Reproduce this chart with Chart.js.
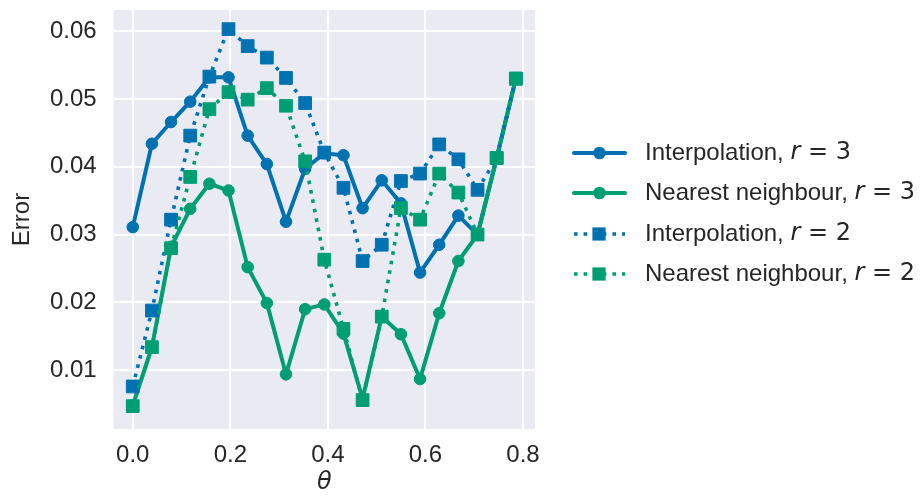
<!DOCTYPE html>
<html>
<head>
<meta charset="utf-8">
<script src="https://cdn.jsdelivr.net/npm/chart.js@4.4.1/dist/chart.umd.min.js"></script>
<style>
  html, body { margin: 0; padding: 0; background: #fff; }
  #wrap { width: 922px; height: 497px; }
</style>
</head>
<body>
<div id="wrap"><canvas id="myChart" width="922" height="497"></canvas></div>
<script>
// angle theta (radians), 21 samples from 0 to pi/4
const theta = [0, 0.0393, 0.0785, 0.1178, 0.1571, 0.1963, 0.2356, 0.2749, 0.3142, 0.3534, 0.3927,
  0.4320, 0.4712, 0.5105, 0.5498, 0.5890, 0.6283, 0.6676, 0.7069, 0.7461, 0.7854];

const interpR3 = [0.0311, 0.0434, 0.0466, 0.0496, 0.0532, 0.0532, 0.0446, 0.0404, 0.0319, 0.0397, 0.0420,
  0.0417, 0.0339, 0.0380, 0.0346, 0.0244, 0.0285, 0.0328, 0.0300, 0.0413, 0.0530];
const nearestR3 = [0.0048, 0.0134, 0.0282, 0.0338, 0.0375, 0.0365, 0.0252, 0.0199, 0.0094, 0.0190, 0.0197,
  0.0154, 0.0058, 0.0179, 0.0153, 0.0087, 0.0184, 0.0261, 0.0300, 0.0413, 0.0530];
const interpR2 = [0.0076, 0.0188, 0.0322, 0.0446, 0.0533, 0.0603, 0.0578, 0.0561, 0.0531, 0.0494, 0.0421,
  0.0369, 0.0261, 0.0285, 0.0379, 0.0390, 0.0433, 0.0411, 0.0366, 0.0413, 0.0530];
const nearestR2 = [0.0047, 0.0134, 0.0280, 0.0385, 0.0485, 0.0510, 0.0499, 0.0516, 0.0490, 0.0408, 0.0263,
  0.0161, 0.0056, 0.0179, 0.0339, 0.0322, 0.0390, 0.0362, 0.0300, 0.0413, 0.0530];

const xTicks = [0, 0.2, 0.4, 0.6, 0.8];
const yTicks = [0.01, 0.02, 0.03, 0.04, 0.05, 0.06];

const BLUE = '#0072B2';
const GREEN = '#009E73';
const TEXT = '#262626';

function pts(vals) {
  return vals.map((v, i) => ({ x: theta[i], y: v }));
}

function series(label, vals, color, dotted, marker, order) {
  return {
    label: label,
    data: pts(vals),
    borderColor: color,
    backgroundColor: color,
    borderWidth: dotted ? 3.6 : 4,
    borderDash: dotted ? [3.6, 6] : [],
    borderCapStyle: dotted ? 'butt' : 'round',
    pointStyle: marker,
    pointRadius: marker === 'rect' ? 9 : 5.8,
    pointBorderWidth: 1,
    pointBorderColor: color,
    pointBackgroundColor: color,
    pointHoverRadius: marker === 'rect' ? 9 : 5.8,
    tension: 0,
    order: order,
    legendDotted: dotted
  };
}

// later series sit on top, as in the original plot
const datasets = [
  series('Interpolation, ', interpR3, BLUE, false, 'circle', 4),
  series('Nearest neighbour, ', nearestR3, GREEN, false, 'circle', 3),
  series('Interpolation, ', interpR2, BLUE, true, 'rect', 2),
  series('Nearest neighbour, ', nearestR2, GREEN, true, 'rect', 1)
];
const rValues = ['3', '3', '2', '2'];

const bgPlugin = {
  id: 'bg',
  beforeDraw(chart) {
    const ctx = chart.ctx;
    const a = chart.chartArea;
    ctx.save();
    ctx.fillStyle = '#ffffff';
    ctx.fillRect(0, 0, chart.width, chart.height);
    ctx.fillStyle = '#EAEAF2';
    ctx.fillRect(a.left, a.top, a.right - a.left, a.bottom - a.top);
    ctx.restore();
  }
};

const sideLegend = {
  id: 'sideLegend',
  afterDraw(chart) {
    const ctx = chart.ctx;
    const rows = [153, 193, 234, 274];
    ctx.save();
    chart.data.datasets.forEach((ds, i) => {
      const y = rows[i];
      ctx.strokeStyle = ds.borderColor;
      ctx.fillStyle = ds.borderColor;
      ctx.lineWidth = ds.borderWidth;
      ctx.setLineDash(ds.legendDotted ? [3.6, 6] : []);
      ctx.lineCap = ds.legendDotted ? 'butt' : 'round';
      ctx.beginPath();
      ctx.moveTo(574, y);
      ctx.lineTo(625, y);
      ctx.stroke();
      ctx.setLineDash([]);
      if (ds.pointStyle === 'rect') {
        ctx.fillRect(599 - 6.6, y - 6.6, 13.2, 13.2);
      } else {
        ctx.beginPath();
        ctx.arc(599.5, y, 6.3, 0, Math.PI * 2);
        ctx.fill();
      }
      ctx.fillStyle = TEXT;
      ctx.textBaseline = 'middle';
      ctx.textAlign = 'left';
      let x = 645;
      ctx.font = '24px "Liberation Sans", Arial, sans-serif';
      ctx.fillText(ds.label, x, y);
      x += ctx.measureText(ds.label).width;
      ctx.font = 'italic 24px "DejaVu Sans"';
      ctx.fillText('r', x, y);
      x += ctx.measureText('r').width;
      ctx.font = '24px "DejaVu Sans"';
      ctx.fillText(' = ' + rValues[i], x, y);
    });
    ctx.restore();
  }
};

const ctx = document.getElementById('myChart').getContext('2d');
new Chart(ctx, {
  type: 'line',
  data: { datasets: datasets },
  plugins: [bgPlugin, sideLegend],
  options: {
    responsive: false,
    animation: false,
    layout: { padding: { top: 7, right: 387, bottom: 0, left: 0 } },
    plugins: {
      legend: { display: false },
      tooltip: { enabled: false }
    },
    scales: {
      x: {
        type: 'linear',
        min: -0.03927,
        max: 0.82467,
        afterBuildTicks: (scale) => { scale.ticks = xTicks.map(v => ({ value: v })); },
        afterFit: (scale) => { scale.height = 68; scale.paddingLeft = 0; scale.paddingRight = 0; },
        grid: { color: '#ffffff', lineWidth: 2, drawTicks: false },
        border: { display: false },
        ticks: {
          padding: 12,
          color: TEXT,
          font: { family: '"Liberation Sans", Arial, sans-serif', size: 24 },
          callback: (v) => v.toFixed(1)
        },
        title: {
          display: true,
          text: 'θ',
          color: TEXT,
          font: { family: '"DejaVu Sans"', size: 24, style: 'italic' },
          padding: { top: 0, bottom: 0 }
        }
      },
      y: {
        type: 'linear',
        min: 0.00133,
        max: 0.06312,
        afterBuildTicks: (scale) => { scale.ticks = yTicks.map(v => ({ value: v })); },
        afterFit: (scale) => { scale.width = 113.6; scale.paddingTop = 0; scale.paddingBottom = 0; },
        grid: { color: '#ffffff', lineWidth: 2, drawTicks: false },
        border: { display: false },
        ticks: {
          padding: 17,
          color: TEXT,
          font: { family: '"Liberation Sans", Arial, sans-serif', size: 24 },
          callback: (v) => v.toFixed(2)
        },
        title: {
          display: true,
          text: 'Error',
          color: TEXT,
          font: { family: '"Liberation Sans", Arial, sans-serif', size: 24 },
          padding: { top: 8, bottom: 0 }
        }
      }
    }
  }
});
</script>
</body>
</html>
